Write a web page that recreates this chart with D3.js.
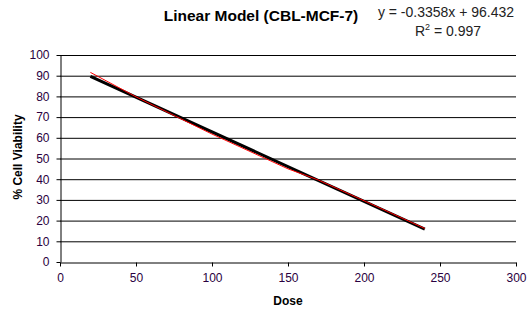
<!DOCTYPE html>
<html>
<head>
<meta charset="utf-8">
<script src="https://cdn.jsdelivr.net/npm/d3@7"></script>
<style>
  body { margin: 0; background: #fff; }
  text { font-family: "Liberation Sans", Arial, sans-serif; }
  .tick text { fill: #2a0040; font-size: 12px; }
  .axis-label { font-size: 12px; font-weight: bold; fill: #000; }
  .title { font-size: 15.5px; font-weight: bold; fill: #000; }
  .eq { font-size: 14px; fill: #222; }
</style>
</head>
<body>
<div id="chart-area"></div>
<script>
var doses = [20, 50, 100, 150, 170, 200, 240];
var viability = [91.6, 79.8, 61.8, 45.0, 39.6, 29.6, 16.2];

// Trendline from the equation shown on the chart.
var slope = -0.3358, intercept = 96.432, r2 = 0.997;

var xTicks = [0, 50, 100, 150, 200, 250, 300];
var yTicks = [0, 10, 20, 30, 40, 50, 60, 70, 80, 90, 100];

// Set margins and dimensions for the SVG container.
var margin = {top: 55, right: 14, bottom: 49, left: 60},
    width = 530 - margin.left - margin.right,
    height = 311 - margin.top - margin.bottom;

var svg = d3.select("#chart-area")
    .append("svg")
    .attr("width", 530)
    .attr("height", 311);

var g = svg.append("g")
    .attr("transform", "translate(" + margin.left + "," + margin.top + ")");

var xScale = d3.scaleLinear().domain([0, 300]).range([0, width]);
var yScale = d3.scaleLinear().domain([0, 100]).range([height, 0]);

// Horizontal gridlines.
g.selectAll("line.grid")
    .data(yTicks.slice(1))
    .enter()
    .append("line")
    .attr("class", "grid")
    .attr("x1", 0)
    .attr("x2", width)
    .attr("y1", d => yScale(d) + 0.5)
    .attr("y2", d => yScale(d) + 0.5)
    .attr("stroke", "#000")
    .attr("stroke-width", 1);

// X axis.
var xAxis = g.append("g")
    .attr("transform", "translate(0," + (height + 0.5) + ")")
    .call(d3.axisBottom(xScale).tickValues(xTicks).tickSize(4).tickPadding(7).tickSizeOuter(0));

// Y axis.
var yAxis = g.append("g")
    .attr("transform", "translate(0.5,0)")
    .call(d3.axisLeft(yScale).tickValues(yTicks).tickSize(4).tickPadding(7).tickSizeOuter(0));

[xAxis, yAxis].forEach(function(a) {
    a.select(".domain").attr("stroke", "#000");
    a.selectAll(".tick line").attr("stroke", "#000");
    a.selectAll(".tick text").attr("fill", null);
});

// Trendline (thick black).
var xExt = d3.extent(doses);
g.append("line")
    .attr("x1", xScale(xExt[0]))
    .attr("y1", yScale(slope * xExt[0] + intercept))
    .attr("x2", xScale(xExt[1]))
    .attr("y2", yScale(slope * xExt[1] + intercept))
    .attr("stroke", "#000")
    .attr("stroke-width", 3);

// Data series (thin red line).
var line = d3.line()
    .x((d, i) => xScale(doses[i]))
    .y(d => yScale(d));

g.append("path")
    .datum(viability)
    .attr("d", line)
    .attr("fill", "none")
    .attr("stroke", "#ff0000")
    .attr("stroke-width", 1);

// Axis labels.
svg.append("text")
    .attr("class", "axis-label")
    .attr("x", 288)
    .attr("y", 305)
    .attr("text-anchor", "middle")
    .text("Dose");

svg.append("text")
    .attr("class", "axis-label")
    .attr("transform", "translate(22,157) rotate(-90)")
    .attr("text-anchor", "middle")
    .text("% Cell Viability");

// Title.
svg.append("text")
    .attr("class", "title")
    .attr("x", 261)
    .attr("y", 21)
    .attr("text-anchor", "middle")
    .text("Linear Model (CBL-MCF-7)");

// Equation label.
svg.append("text")
    .attr("class", "eq")
    .attr("x", 446)
    .attr("y", 17)
    .attr("text-anchor", "middle")
    .text("y = " + slope + "x + " + intercept);

var r2Text = svg.append("text")
    .attr("class", "eq")
    .attr("x", 448)
    .attr("y", 36)
    .attr("text-anchor", "middle");
r2Text.append("tspan").text("R");
r2Text.append("tspan").attr("dy", -6).attr("font-size", "9px").text("2");
r2Text.append("tspan").attr("dy", 6).text(" = " + r2);
</script>
</body>
</html>
